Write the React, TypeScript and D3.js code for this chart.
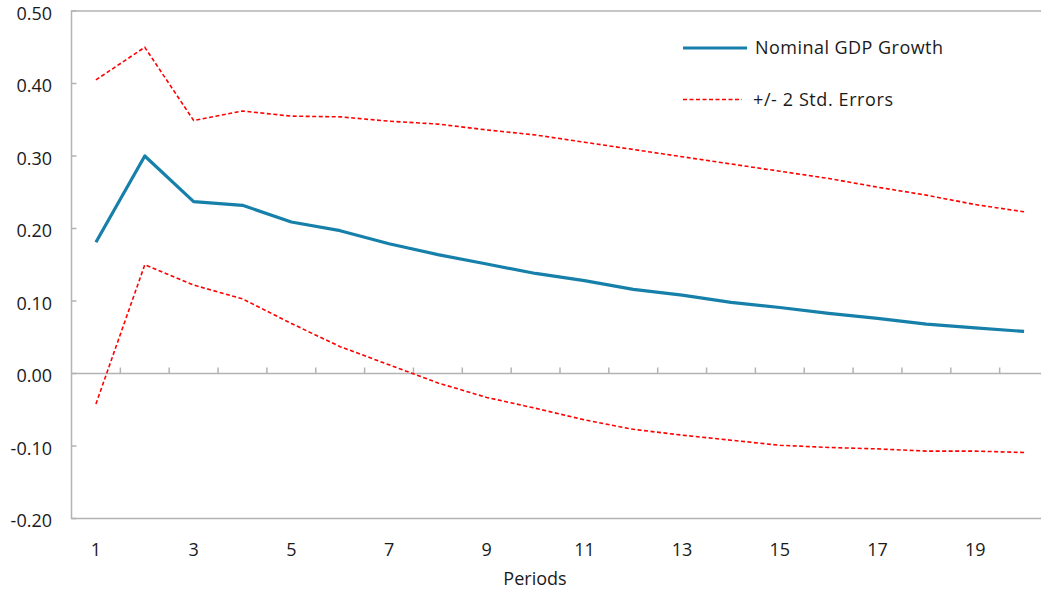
import React from "react";
import * as d3 from "d3";

const periods: number[] = Array.from({ length: 20 }, (_, i) => i + 1);
const gdpGrowth: number[] = [0.181, 0.300, 0.237, 0.232, 0.209, 0.197, 0.179, 0.164, 0.151, 0.138, 0.128, 0.116, 0.108, 0.098, 0.091, 0.083, 0.076, 0.068, 0.063, 0.058];
const upperBand: number[] = [0.405, 0.450, 0.349, 0.362, 0.355, 0.354, 0.348, 0.344, 0.336, 0.329, 0.319, 0.309, 0.299, 0.289, 0.279, 0.269, 0.257, 0.246, 0.233, 0.223];
const lowerBand: number[] = [-0.042, 0.150, 0.122, 0.103, 0.069, 0.037, 0.012, -0.013, -0.033, -0.048, -0.064, -0.077, -0.085, -0.092, -0.099, -0.102, -0.104, -0.107, -0.107, -0.109];
const yTicks: number[] = [0.5, 0.4, 0.3, 0.2, 0.1, 0.0, -0.1, -0.2];
const xTickLabels: number[] = [1, 3, 5, 7, 9, 11, 13, 15, 17, 19];

const W = 1041, H = 596;
const left = 71.5, top = 11, bottom = 518.5;
const band = 48.85;
const right = left + band * periods.length;

const FONT = "'Open Sans', 'Noto Sans', sans-serif";
const AXIS = "#b3b3b3";
const BLUE = "#1680aa";
const RED = "#ff0000";
const FS = 18;

export default function App() {
  const x = d3.scaleBand<number>().domain(periods).range([left, right]).paddingInner(0).paddingOuter(0);
  const y = d3.scaleLinear().domain([-0.2, 0.5]).range([bottom, top]);
  const cx = (p: number) => (x(p) as number) + x.bandwidth() / 2;
  const line = d3.line<number>().x((_, i) => cx(periods[i])).y((d) => y(d));
  const y0 = y(0);

  return (
    <svg width={W} height={H} style={{ position: "absolute", left: 0, top: 0, background: "#fff" }} fontFamily={FONT}>
      {/* plot border */}
      <rect x={left} y={top} width={right - left} height={bottom - top} fill="none" stroke={AXIS} strokeWidth={1.5} />
      {/* y ticks */}
      {yTicks.map((t) => (
        <g key={t}>
          <line x1={left} x2={left + 5} y1={y(t)} y2={y(t)} stroke={AXIS} strokeWidth={1.5} />
          <text x={52} y={y(t) + 2.5} dy="0.35em" textAnchor="end" fontSize={FS} fill="#1a1a1a">
            {t.toFixed(2)}
          </text>
        </g>
      ))}
      {/* zero axis */}
      <line x1={left} x2={right} y1={y0} y2={y0} stroke={AXIS} strokeWidth={1.5} />
      {periods.slice(1).map((p) => (
        <line key={p} x1={x(p) as number} x2={x(p) as number} y1={y0} y2={y0 - 6} stroke={AXIS} strokeWidth={1.5} />
      ))}
      {xTickLabels.map((p) => (
        <text key={p} x={cx(p)} y={550} dy="0.35em" textAnchor="middle" fontSize={FS} fill="#1a1a1a">
          {p}
        </text>
      ))}
      <text x={535} y={579} dy="0.35em" textAnchor="middle" fontSize={FS} fill="#1a1a1a">Periods</text>

      {/* series */}
      <path d={line(upperBand) || ""} fill="none" stroke={RED} strokeWidth={1.6} strokeDasharray="4,2.5" />
      <path d={line(lowerBand) || ""} fill="none" stroke={RED} strokeWidth={1.6} strokeDasharray="4,2.5" />
      <path d={line(gdpGrowth) || ""} fill="none" stroke={BLUE} strokeWidth={3.2} strokeLinejoin="round" />

      {/* legend */}
      <line x1={683} x2={747} y1={48} y2={48} stroke={BLUE} strokeWidth={3.2} />
      <text x={755} y={48} dy="0.35em" fontSize={FS} fill="#1a1a1a" textLength={188} lengthAdjust="spacing">Nominal GDP Growth</text>
      <line x1={683} x2={742} y1={99.5} y2={99.5} stroke={RED} strokeWidth={1.6} strokeDasharray="4,2.5" />
      <text x={753} y={100} dy="0.35em" fontSize={FS} fill="#1a1a1a" textLength={140} lengthAdjust="spacing">+/- 2 Std. Errors</text>
    </svg>
  );
}
